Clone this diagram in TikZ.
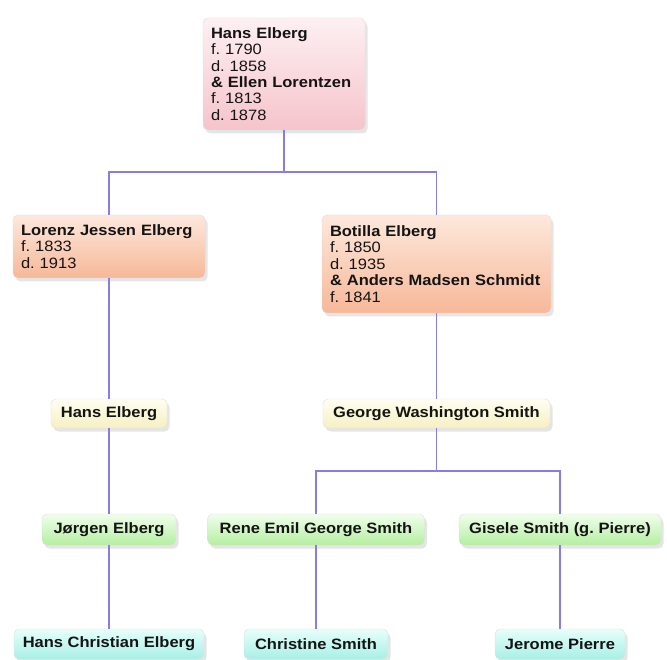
\documentclass[tikz,border=0pt]{standalone}
\usepackage{fontspec}
\setmainfont[FakeStretch=1.1]{Liberation Sans}
\usetikzlibrary{shadows}
\frenchspacing
\definecolor{pinkT}{HTML}{FDF0F2}
\definecolor{pinkB}{HTML}{F5C4CB}
\definecolor{peachT}{HTML}{FDE8DC}
\definecolor{peachB}{HTML}{F7B898}
\definecolor{creamT}{HTML}{FFFEF2}
\definecolor{creamB}{HTML}{F6F0C2}
\definecolor{greenT}{HTML}{F0FEEC}
\definecolor{greenB}{HTML}{B4EFA0}
\definecolor{cyanT}{HTML}{E8FEFB}
\definecolor{cyanB}{HTML}{A6F0E6}
\definecolor{linkC}{HTML}{857EE8}
\definecolor{inkC}{HTML}{141414}
\tikzset{
  famcard/.style n args={2}{rounded corners=5pt, draw=black!12, line width=0.4pt,
    top color=#1, bottom color=#2, text=inkC,
    drop shadow={shadow xshift=2.5pt, shadow yshift=-3.5pt, opacity=0.2},
    font=\fontsize{15}{16.4}\selectfont, inner sep=0pt},
  multi/.style n args={2}{align=left, text width=#1-16pt, inner xsep=8pt,
    minimum height=#2},
  single/.style n args={2}{align=center, minimum width=#1, minimum height=#2,
    font=\fontsize{15}{16.4}\selectfont\bfseries},
  pinkcard/.style={famcard={pinkT}{pinkB}},
  peachcard/.style={famcard={peachT}{peachB}},
  creamcard/.style={famcard={creamT}{creamB}},
  greencard/.style={famcard={greenT}{greenB}},
  cyancard/.style={famcard={cyanT}{cyanB}},
  link/.style={draw=linkC, line width=1.05pt}
}
\begin{document}
\begin{tikzpicture}[x=1pt,y=-1pt]
\useasboundingbox[fill=white] (0,0) rectangle (667,660);
\coordinate (j1) at (284,172);
\coordinate (j2) at (436.5,471);
% nodes
\node[pinkcard, multi={162pt}{112pt}] (top) at (284,74)
  {\textbf{Hans Elberg}\\f. 1790\\d. 1858\\\textbf{\& Ellen Lorentzen}\\f. 1813\\d. 1878};
\node[peachcard, multi={192pt}{63pt}] (lorenz) at (109,246.5)
  {\textbf{Lorenz Jessen Elberg}\\f. 1833\\d. 1913};
\node[peachcard, multi={229pt}{98pt}] (botilla) at (436.5,264)
  {\textbf{Botilla Elberg}\\f. 1850\\d. 1935\\\textbf{\& Anders Madsen Schmidt}\\f. 1841};
\node[creamcard, single={116pt}{29pt}] (hans) at (109,413.5) {Hans Elberg};
\node[creamcard, single={227pt}{29pt}] (gws) at (436.5,413.5) {George Washington Smith};
\node[greencard, single={134pt}{31pt}] (jorgen) at (109,529.5) {Jørgen Elberg};
\node[greencard, single={217pt}{31pt}] (rene) at (316,529.5) {Rene Emil George Smith};
\node[greencard, single={202pt}{31pt}] (gisele) at (560,529.5) {Gisele Smith (g. Pierre)};
\node[cyancard, single={190pt}{30pt}] (hce) at (109,644) {Hans Christian Elberg};
\node[cyancard, single={144pt}{30pt}] (christine) at (316,644) {Christine Smith};
\node[cyancard, single={130pt}{30pt}] (jerome) at (560,644) {Jerome Pierre};
% connectors
\draw[link] (top.south) -- (j1);
\draw[link] (lorenz.north) |- (j1) -| (botilla.north);
\draw[link] (lorenz.south) -- (hans.north);
\draw[link] (hans.south) -- (jorgen.north);
\draw[link] (jorgen.south) -- (hce.north);
\draw[link] (botilla.south) -- (gws.north);
\draw[link] (gws.south) -- (j2);
\draw[link] (rene.north) |- (j2) -| (gisele.north);
\draw[link] (rene.south) -- (christine.north);
\draw[link] (gisele.south) -- (jerome.north);
\end{tikzpicture}
\end{document}
